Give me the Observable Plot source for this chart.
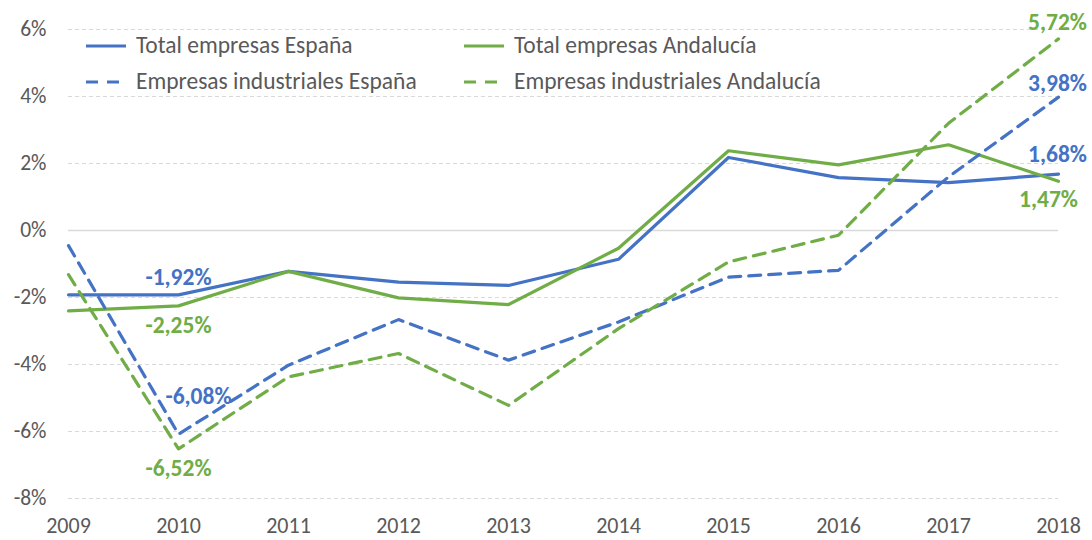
<!DOCTYPE html>
<html>
<head>
<meta charset="utf-8">
<script src="https://cdn.jsdelivr.net/npm/d3@7"></script>
<script src="https://cdn.jsdelivr.net/npm/@observablehq/plot@0.6"></script>
<style>
  html, body { margin: 0; padding: 0; background: #fff; }
  #wrap { position: relative; width: 1092px; height: 540px; font-family: Carlito, Calibri, Lato, "Open Sans", sans-serif; color: #595959; }
  .leg { position: absolute; display: flex; align-items: center; font-size: 23.5px; white-space: nowrap; line-height: 1; }
  .leg svg { margin-right: 10px; }
</style>
</head>
<body>
<div id="wrap"></div>
<script>
const years = [2009, 2010, 2011, 2012, 2013, 2014, 2015, 2016, 2017, 2018];
const totalEspana = [-1.92, -1.92, -1.22, -1.54, -1.64, -0.86, 2.18, 1.58, 1.43, 1.68];
const totalAndalucia = [-2.40, -2.25, -1.22, -2.01, -2.21, -0.53, 2.38, 1.96, 2.56, 1.47];
const indEspana = [-0.45, -6.08, -4.02, -2.66, -3.87, -2.73, -1.39, -1.19, 1.60, 3.98];
const indAndalucia = [-1.32, -6.52, -4.37, -3.67, -5.22, -2.93, -0.94, -0.14, 3.20, 5.72];
const seriesNames = ["Total empresas España", "Total empresas Andalucía", "Empresas industriales España", "Empresas industriales Andalucía"];
const yTicks = [-8, -6, -4, -2, 0, 2, 4, 6];

const BLUE = "#4472C4", GREEN = "#70AD47";
const styles = {
  "Total empresas España": {stroke: BLUE, dash: null},
  "Total empresas Andalucía": {stroke: GREEN, dash: null},
  "Empresas industriales España": {stroke: BLUE, dash: "12,8"},
  "Empresas industriales Andalucía": {stroke: GREEN, dash: "12,8"}
};
const seriesValues = [totalEspana, totalAndalucia, indEspana, indAndalucia];
const table = [];
seriesNames.forEach((s, i) => years.forEach((y, j) => table.push({series: s, year: y, value: seriesValues[i][j]})));

const fmt = v => v.toFixed(2).replace(".", ",") + "%";
const pick = (s, y) => table.filter(d => d.series === s && d.year === y);
const FONT = "Carlito, Calibri, Lato, 'Open Sans', sans-serif";

const lineMarks = seriesNames.map(s => Plot.line(table.filter(d => d.series === s), {
  x: "year", y: "value", stroke: styles[s].stroke, strokeWidth: 3.2,
  strokeDasharray: styles[s].dash || undefined
}));

const lab = (s, y, dx, dy, anchor) => Plot.text(pick(s, y), {
  x: "year", y: "value", text: d => fmt(d.value), dx, dy,
  fill: styles[s].stroke, fontWeight: "bold", fontSize: 23.5, textAnchor: anchor || "middle"
});

const chart = Plot.plot({
  width: 1092, height: 540,
  marginLeft: 68, marginRight: 34, marginTop: 29, marginBottom: 42,
  style: {fontFamily: FONT, fontSize: "20px", color: "#595959", background: "white", overflow: "visible"},
  x: {domain: [2009, 2018]},
  y: {domain: [-8, 6]},
  marks: [
    Plot.ruleY(yTicks.filter(d => d !== 0), {y: d => d, stroke: "#d9d9d9", strokeDasharray: "4,3", strokeWidth: 1}),
    Plot.ruleY([0], {y: d => d, stroke: "#d9d9d9", strokeWidth: 1.3}),
    Plot.axisX({ticks: years, tickSize: 0, tickPadding: 19, fontSize: 22, tickFormat: d => String(d), label: null}),
    Plot.axisY({ticks: yTicks, tickSize: 0, tickPadding: 22, fontSize: 21.5, tickFormat: d => d + "%", label: null}),
    ...lineMarks,
    lab("Total empresas España", 2010, 0, -17),
    lab("Total empresas Andalucía", 2010, 0, 20),
    lab("Empresas industriales España", 2010, 20, -38),
    lab("Empresas industriales Andalucía", 2010, 0, 20),
    lab("Empresas industriales Andalucía", 2018, -1, -16),
    lab("Empresas industriales España", 2018, -1, -14),
    lab("Total empresas España", 2018, -1, -20),
    lab("Total empresas Andalucía", 2018, -10, 18)
  ]
});

const wrap = document.getElementById("wrap");
wrap.appendChild(chart);

// Legend overlay (inside plot area, two columns x two rows)
const legPos = [
  {left: 86, top: 46}, {left: 464, top: 46},
  {left: 86, top: 82}, {left: 464, top: 82}
];
seriesNames.forEach((s, i) => {
  const div = document.createElement("div");
  div.className = "leg";
  div.style.left = legPos[i].left + "px";
  div.style.top = (legPos[i].top - 12) + "px";
  div.style.height = "24px";
  const st = styles[s];
  div.innerHTML = `<svg width="40" height="6"><line x1="0" y1="3" x2="40" y2="3" stroke="${st.stroke}" stroke-width="3" ${st.dash ? 'stroke-dasharray="12,9"' : ''}/></svg><span>${s}</span>`;
  wrap.appendChild(div);
});
</script>
</body>
</html>
